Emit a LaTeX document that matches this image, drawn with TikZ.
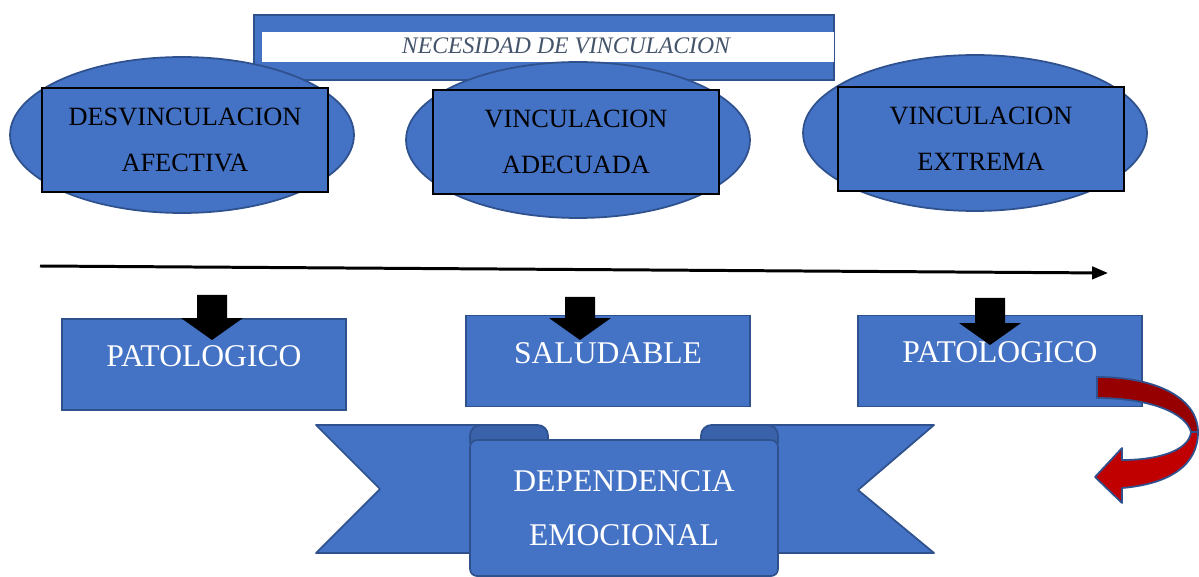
\documentclass[tikz,border=0pt]{standalone}
\usepackage{fontspec}
\setmainfont{Liberation Serif}
\usetikzlibrary{shapes.geometric,arrows.meta}
\definecolor{officeblue}{RGB}{68,114,196}
\definecolor{officeborde}{RGB}{47,82,143}
\definecolor{pliegue}{RGB}{58,98,170}
\definecolor{titulogris}{RGB}{68,84,106}
\definecolor{rojooscuro}{RGB}{150,0,0}
\definecolor{rojo}{RGB}{192,0,0}

\begin{document}
\begin{tikzpicture}[x=0.02cm,y=-0.02cm]
    \tikzstyle{ovalo} = [ellipse, draw=officeborde, line width=1pt, fill=officeblue, minimum width=6.88cm, minimum height=3.12cm]
    \tikzstyle{etapa} = [rectangle, draw=black, line width=0.9pt, fill=officeblue, minimum width=5.72cm, minimum height=2.08cm, align=center, font=\fontsize{15}{26}\selectfont]
    \tikzstyle{estado} = [rectangle, draw=officeborde, line width=1pt, fill=officeblue, minimum width=5.68cm, minimum height=1.82cm]
    \tikzstyle{estadotexto} = [text=white, font=\fontsize{18}{22}\selectfont]
    \tikzstyle{ala} = [draw=officeborde, line width=1pt, fill=officeblue, line join=round]
    \tikzstyle{cinta} = [rectangle, rounded corners=4pt, draw=officeborde, line width=1pt, fill=officeblue, minimum width=6.16cm, minimum height=2.72cm, align=center, text=white, font=\fontsize{18}{30.6}\selectfont]
    \tikzset{pics/flechabaja/.style={code={
        \fill[black] (-15,0) -- (15,0) -- (15,#1-22) -- (31,#1-22) -- (0,#1) -- (-31,#1-22) -- (-15,#1-22) -- cycle;}}}

    \useasboundingbox (0,0) rectangle (1199,577);

    % titulo
    \node[rectangle, draw=officeborde, line width=1pt, fill=officeblue, minimum width=11.6cm, minimum height=1.3cm] (marco) at (544,47.5) {};
    \node[rectangle, fill=white, inner sep=0pt, minimum width=11.44cm, minimum height=0.6cm] (franja) at (548,47) {};
    \node[text=titulogris, font=\fontsize{13.5}{16}\selectfont\itshape] (titulo) at (566,46) {NECESIDAD DE VINCULACION};

    % niveles de vinculacion
    \node[ovalo] (o1) at (182,135) {};
    \node[ovalo] (o2) at (578,140) {};
    \node[ovalo] (o3) at (975,133) {};
    \node[etapa] (e1) at (185,140) {DESVINCULACION\\AFECTIVA};
    \node[etapa] (e2) at (576,142) {VINCULACION\\ADECUADA};
    \node[etapa] (e3) at (981,139) {VINCULACION\\EXTREMA};

    % continuo
    \coordinate (inicio) at (40,266);
    \coordinate (fin) at (1108,273);
    \draw[line width=1.7pt, -{Triangle[length=9pt,width=7pt]}] (inicio) -- (fin);

    % resultados
    \node[estado] (r1) at (204,364.5) {};
    \node[estado] (r2) at (608,361) {};
    \node[estado] (r3) at (1000,361) {};
    \node[estadotexto] (t1) at ([yshift=4.5pt]r1.center) {PATOLOGICO};
    \node[estadotexto] (t2) at ([yshift=4.5pt]r2.center) {SALUDABLE};
    \node[estadotexto] (t3) at (1000,352) {PATOLOGICO};
    \pic at (212,295) {flechabaja=45};
    \pic at (580,297) {flechabaja=43};
    \pic at (990,298) {flechabaja=47};

    % cinta
    \draw[ala] (316,425) -- (480,425) -- (480,553) -- (316,553) -- (380,489) -- cycle;
    \draw[ala] (934,425) -- (768,425) -- (768,553) -- (934,553) -- (858,490) -- cycle;
    \draw[ala, fill=pliegue, rounded corners=6pt] (470,425) rectangle (548,452);
    \draw[ala, fill=pliegue, rounded corners=6pt] (701,425) rectangle (778,452);
    \node[cinta] (dependencia) at (624,508) {DEPENDENCIA\\EMOCIONAL};

    % flecha curva
    \draw[draw=officeborde, line width=1pt, fill=rojooscuro, line join=round] (1097,377) .. controls (1160,377) and (1198,400) .. (1198,432) -- (1191,432) .. controls (1186,413) and (1150,398) .. (1097,398) -- cycle;
    \draw[draw=officeborde, line width=1pt, fill=rojo, line join=round] (1191,432) .. controls (1189,450) and (1160,460) .. (1122,460) -- (1122,448) -- (1095,477) -- (1122,503) -- (1122,488) .. controls (1170,484) and (1198,465) .. (1198,432) -- cycle;
\end{tikzpicture}
\end{document}
